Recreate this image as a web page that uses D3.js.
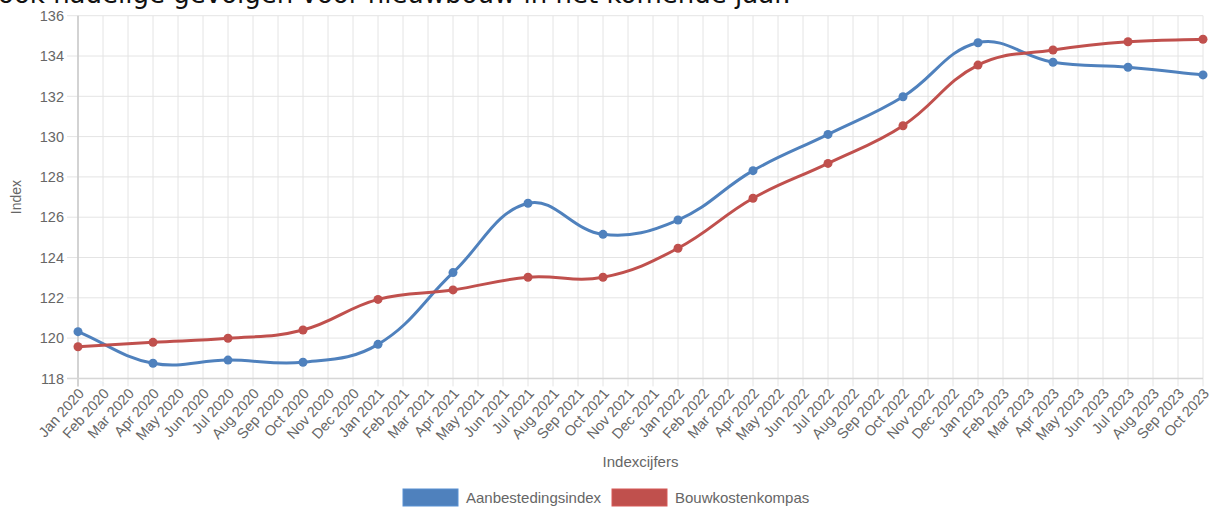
<!DOCTYPE html>
<html>
<head>
<meta charset="utf-8">
<script src="https://cdn.jsdelivr.net/npm/d3@7"></script>
<style>
  body { margin: 0; background: #fff; }
  svg { display: block; font-family: "Liberation Sans", Arial, sans-serif; }
</style>
</head>
<body>
<svg id="chart" width="1212" height="508"></svg>
<script>
const months = [
  'Jan 2020','Feb 2020','Mar 2020','Apr 2020','May 2020','Jun 2020','Jul 2020','Aug 2020','Sep 2020','Oct 2020','Nov 2020','Dec 2020',
  'Jan 2021','Feb 2021','Mar 2021','Apr 2021','May 2021','Jun 2021','Jul 2021','Aug 2021','Sep 2021','Oct 2021','Nov 2021','Dec 2021',
  'Jan 2022','Feb 2022','Mar 2022','Apr 2022','May 2022','Jun 2022','Jul 2022','Aug 2022','Sep 2022','Oct 2022','Nov 2022','Dec 2022',
  'Jan 2023','Feb 2023','Mar 2023','Apr 2023','May 2023','Jun 2023','Jul 2023','Aug 2023','Sep 2023','Oct 2023'
];
const pointMonths = [
  'Jan 2020','Apr 2020','Jul 2020','Oct 2020','Jan 2021','Apr 2021','Jul 2021','Oct 2021',
  'Jan 2022','Apr 2022','Jul 2022','Oct 2022','Jan 2023','Apr 2023','Jul 2023','Oct 2023'
];
const aanbesteding = [120.32, 118.75, 118.91, 118.8, 119.69, 123.25, 126.69, 125.15,
  125.86, 128.31, 130.11, 131.98, 134.66, 133.69, 133.44, 133.06];
const bouwkosten = [119.57, 119.79, 119.99, 120.4, 121.92, 122.39, 123.02, 123.02,
  124.46, 126.94, 128.67, 130.54, 133.55, 134.3, 134.71, 134.83];
const yTicks = [118, 120, 122, 124, 126, 128, 130, 132, 134, 136];

const series = [
  { name: 'Aanbestedingsindex', color: '#4f81bd', values: aanbesteding },
  { name: 'Bouwkostenkompas', color: '#c0504d', values: bouwkosten }
];

const svg = d3.select('#chart');
const area = { left: 78, right: 1203, top: 15.7, bottom: 378.4 };

const x = d3.scalePoint().domain(months).range([area.left, area.right]);
const y = d3.scaleLinear().domain([118, 136]).range([area.bottom, area.top]);

// cut-off sentence from the page above the chart
svg.append('text')
  .attr('x', -2).attr('y', 3)
  .attr('font-family', 'DejaVu Sans, Verdana, sans-serif')
  .attr('font-size', 26)
  .attr('fill', '#111')
  .text('ook nadelige gevolgen voor nieuwbouw in het komende jaar.');

// grid
const grid = svg.append('g');
grid.selectAll('.vg').data(months).join('line')
  .attr('x1', d => x(d)).attr('x2', d => x(d))
  .attr('y1', area.top).attr('y2', area.bottom + 8)
  .attr('stroke', '#e4e4e4').attr('stroke-width', 1);
grid.selectAll('.hg').data(yTicks).join('line')
  .attr('x1', area.left - 11).attr('x2', area.right)
  .attr('y1', d => y(d)).attr('y2', d => y(d))
  .attr('stroke', '#e4e4e4').attr('stroke-width', 1);
grid.append('line')
  .attr('x1', area.left).attr('x2', area.left)
  .attr('y1', area.top).attr('y2', area.bottom + 8)
  .attr('stroke', '#c8c8c8').attr('stroke-width', 1.5);
grid.append('line')
  .attr('x1', area.left - 11).attr('x2', area.right)
  .attr('y1', area.bottom).attr('y2', area.bottom)
  .attr('stroke', '#d6d6d6').attr('stroke-width', 1.5);

// y tick labels
svg.append('g').selectAll('text').data(yTicks).join('text')
  .attr('x', 64).attr('y', d => y(d))
  .attr('dy', '0.36em')
  .attr('text-anchor', 'end')
  .attr('font-size', 14.5)
  .attr('fill', '#666')
  .text(d => d);

// x tick labels
svg.append('g').selectAll('text').data(months).join('text')
  .attr('transform', d => `translate(${x(d) + 3},${area.bottom + 12}) rotate(-48)`)
  .attr('text-anchor', 'end')
  .attr('dy', '0.36em')
  .attr('font-size', 14.5)
  .attr('fill', '#666')
  .text(d => d);

// axis titles
svg.append('text')
  .attr('transform', `translate(21,${(area.top + area.bottom) / 2}) rotate(-90)`)
  .attr('text-anchor', 'middle')
  .attr('font-size', 14)
  .attr('fill', '#666')
  .text('Index');
svg.append('text')
  .attr('x', (area.left + area.right) / 2).attr('y', 467)
  .attr('text-anchor', 'middle')
  .attr('font-size', 15)
  .attr('fill', '#666')
  .text('Indexcijfers');

// Chart.js style spline (tension 0.4)
function splinePath(pts, t) {
  const ctrl = pts.map((cur, i) => {
    const prev = pts[i - 1] || cur;
    const next = pts[i + 1] || cur;
    const d01 = Math.hypot(cur[0] - prev[0], cur[1] - prev[1]);
    const d12 = Math.hypot(next[0] - cur[0], next[1] - cur[1]);
    const s01 = d01 / (d01 + d12) || 0;
    const s12 = d12 / (d01 + d12) || 0;
    const fa = t * s01, fb = t * s12;
    const clampY = v => Math.max(area.top, Math.min(area.bottom, v));
    return {
      prev: [cur[0] - fa * (next[0] - prev[0]), clampY(cur[1] - fa * (next[1] - prev[1]))],
      next: [cur[0] + fb * (next[0] - prev[0]), clampY(cur[1] + fb * (next[1] - prev[1]))]
    };
  });
  const p = d3.path();
  p.moveTo(pts[0][0], pts[0][1]);
  for (let i = 1; i < pts.length; i++) {
    const a = ctrl[i - 1].next, b = ctrl[i].prev;
    p.bezierCurveTo(a[0], a[1], b[0], b[1], pts[i][0], pts[i][1]);
  }
  return p.toString();
}

const lines = svg.append('g');
series.forEach(s => {
  const pts = pointMonths.map((m, i) => [x(m), y(s.values[i])]);
  lines.append('path')
    .attr('d', splinePath(pts, 0.4))
    .attr('fill', 'none')
    .attr('stroke', s.color)
    .attr('stroke-width', 3);
  lines.append('g').selectAll('circle').data(pts).join('circle')
    .attr('cx', d => d[0]).attr('cy', d => d[1])
    .attr('r', 4.5)
    .attr('fill', s.color);
});

// legend
const legend = svg.append('g');
const legendX = [403, 612];
series.forEach((s, i) => {
  legend.append('rect')
    .attr('x', legendX[i]).attr('y', 489)
    .attr('width', 55).attr('height', 17)
    .attr('fill', s.color)
    .attr('stroke', d3.color(s.color).brighter(0.3)).attr('stroke-width', 1);
  legend.append('text')
    .attr('x', legendX[i] + 63).attr('y', 503)
    .attr('font-size', 15)
    .attr('fill', '#666')
    .text(s.name);
});
</script>
</body>
</html>
